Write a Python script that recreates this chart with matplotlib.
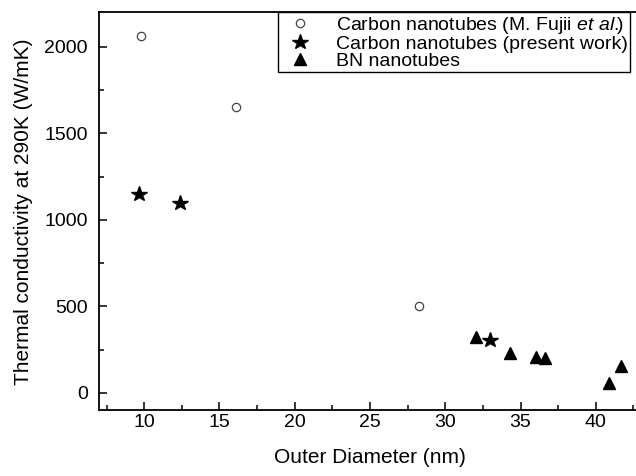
import numpy as np
import matplotlib
matplotlib.use("Agg")
import matplotlib.pyplot as plt
from matplotlib.ticker import MultipleLocator

plt.rcParams['font.family'] = ['Liberation Sans', 'DejaVu Sans']
plt.rcParams['mathtext.fontset'] = 'custom'
plt.rcParams['mathtext.rm'] = 'Liberation Sans'
plt.rcParams['mathtext.it'] = 'Liberation Sans:italic'

# data
fujii_d = [9.8, 16.1, 28.25]
fujii_k = [2065, 1655, 502]

cnt_d = [9.65, 12.35, 33.0]
cnt_k = [1150, 1100, 305]

bn_d = [32.05, 34.3, 36.0, 36.6, 40.85, 41.65]
bn_k = [325, 230, 210, 202, 58, 158]

fig = plt.figure(figsize=(6.36, 4.76), dpi=100)
ax = fig.add_axes([99/636, 1-410.3/476, 542/636, (410.3-12.3)/476])

ax.plot(fujii_d, fujii_k, linestyle='none', marker='o', ms=6, mfc='white',
        mec='#444444', mew=0.9,
        label=r'Carbon nanotubes (M. Fujii $\it{et\ al.}\!\!$)')
ax.plot(cnt_d, cnt_k, linestyle='none', marker='*', ms=11.5, color='black',
        label='Carbon nanotubes (present work)')
ax.plot(bn_d, bn_k, linestyle='none', marker='^', ms=9, color='black',
        label='BN nanotubes')

ax.set_xlim(7, 43)
ax.set_ylim(-100, 2200)
ax.xaxis.set_major_locator(MultipleLocator(5))
ax.xaxis.set_minor_locator(MultipleLocator(2.5))
ax.yaxis.set_major_locator(MultipleLocator(500))
ax.yaxis.set_minor_locator(MultipleLocator(250))
ax.tick_params(which='both', direction='in', width=1.1, labelsize=14)
ax.tick_params(which='major', length=6)
ax.tick_params(which='minor', length=3.5)
ax.tick_params(axis='y', pad=8)
ax.tick_params(axis='x', pad=3)
for s in ax.spines.values():
    s.set_linewidth(1.3)

ax.set_xlabel('Outer Diameter (nm)', fontsize=15, labelpad=12)
ax.set_ylabel('Thermal conductivity at 290K (W/mK)', fontsize=15, labelpad=8)

leg = ax.legend(loc='upper right', bbox_to_anchor=(630/636, 1-12.3/476),
                bbox_transform=fig.transFigure, borderaxespad=0, fontsize=14,
                fancybox=False, framealpha=1, edgecolor='black',
                handlelength=2.0, handletextpad=0.85, labelspacing=-0.03,
                borderpad=0.12)
leg.get_frame().set_linewidth(1.0)

fig.savefig('out.png', dpi=100)
